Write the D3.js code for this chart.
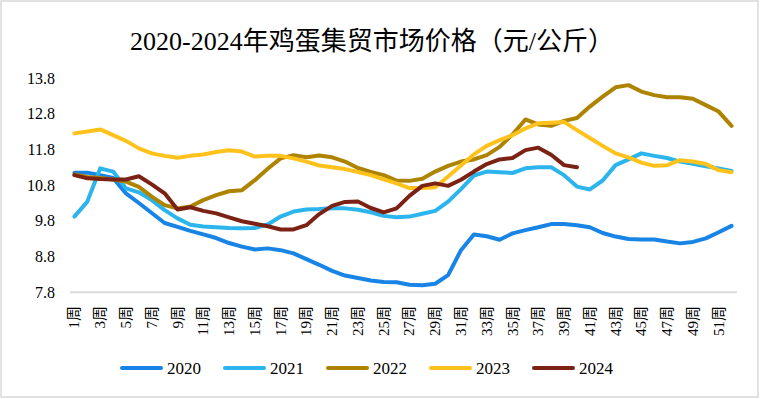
<!DOCTYPE html>
<html>
<head>
<meta charset="utf-8">
<script src="https://cdn.jsdelivr.net/npm/d3@7"></script>
<style>
  body { margin: 0; background: #fff; }
</style>
</head>
<body>
<svg id="chart" width="760" height="399"></svg>
<script>
// weeks on the x axis, only odd ones get a label
var weeks = d3.range(1, 53);
var yTicks = [7.8, 8.8, 9.8, 10.8, 11.8, 12.8, 13.8];
var years = ["2020", "2021", "2022", "2023", "2024"];

var v2020 = [11.15, 11.15, 11.08, 11.0, 10.57, 10.3, 10.02, 9.74, 9.63, 9.52, 9.42, 9.32, 9.18,
  9.08, 9.0, 9.03, 8.98, 8.89, 8.73, 8.57, 8.4, 8.27, 8.2, 8.13, 8.09, 8.08, 8.01, 8.0, 8.04,
  8.28, 8.98, 9.42, 9.37, 9.27, 9.45, 9.54, 9.62, 9.71, 9.71, 9.68, 9.62, 9.46, 9.36, 9.29,
  9.28, 9.28, 9.22, 9.17, 9.21, 9.31, 9.48, 9.66];
var v2021 = [9.92, 10.34, 11.27, 11.18, 10.71, 10.6, 10.38, 10.1, 9.87, 9.69, 9.64, 9.62, 9.6,
  9.59, 9.6, 9.7, 9.92, 10.06, 10.12, 10.13, 10.15, 10.15, 10.11, 10.04, 9.94, 9.9, 9.92, 10.0,
  10.08, 10.34, 10.69, 11.07, 11.18, 11.16, 11.14, 11.27, 11.3, 11.3, 11.08, 10.76, 10.68,
  10.93, 11.36, 11.52, 11.69, 11.62, 11.56, 11.46, 11.4, 11.33, 11.27, 11.2];
var v2022 = [11.1, 11.03, 11.0, 10.96, 10.9, 10.75, 10.48, 10.24, 10.15, 10.2, 10.38, 10.52,
  10.63, 10.66, 10.94, 11.26, 11.55, 11.64, 11.58, 11.63, 11.58, 11.46, 11.28, 11.17, 11.08,
  10.93, 10.92, 10.98, 11.18, 11.34, 11.46, 11.52, 11.64, 11.87, 12.22, 12.64, 12.5, 12.46,
  12.6, 12.68, 13.0, 13.28, 13.54, 13.6, 13.42, 13.32, 13.26, 13.26, 13.22, 13.04, 12.86, 12.46];
var v2023 = [12.25, 12.3, 12.36, 12.2, 12.04, 11.83, 11.69, 11.62, 11.57, 11.62, 11.66, 11.73,
  11.78, 11.74, 11.6, 11.62, 11.62, 11.55, 11.46, 11.35, 11.3, 11.25, 11.17, 11.08, 10.96,
  10.85, 10.72, 10.72, 10.74, 11.04, 11.35, 11.66, 11.9, 12.06, 12.2, 12.39, 12.53, 12.55,
  12.57, 12.34, 12.12, 11.9, 11.69, 11.58, 11.43, 11.34, 11.36, 11.5, 11.46, 11.39, 11.22, 11.16];
var v2024 = [11.08, 10.99, 10.97, 10.96, 10.96, 11.05, 10.82, 10.57, 10.12, 10.18, 10.08, 10.01,
  9.9, 9.79, 9.72, 9.65, 9.56, 9.56, 9.68, 9.99, 10.22, 10.33, 10.34, 10.16, 10.04, 10.15,
  10.5, 10.78, 10.85, 10.78, 10.95, 11.18, 11.39, 11.52, 11.56, 11.78, 11.85, 11.65, 11.36, 11.3];

var colors = ["#1784e6", "#2cb4ec", "#ad8300", "#ffc21c", "#7b2214"];
var serif = "'Liberation Serif', 'Times New Roman', Tinos, 'DejaVu Serif', serif";
var mixed = "'Liberation Serif', 'Times New Roman', 'Noto Sans CJK SC', serif";

function draw() {
  var svg = d3.select("#chart");

  // chart border
  svg.append("rect")
    .attr("x", 1).attr("y", 1)
    .attr("width", 757).attr("height", 396)
    .attr("fill", "#fff")
    .attr("stroke", "#d9d9d9")
    .attr("stroke-width", 1.5);

  svg.append("text")
    .attr("x", 372).attr("y", 50)
    .attr("text-anchor", "middle")
    .attr("font-family", mixed)
    .attr("font-size", 26)
    .text("2020-2024年鸡蛋集贸市场价格（元/公斤）");

  var x = d3.scalePoint()
    .domain(weeks)
    .range([68, 738])
    .padding(0.5);

  var y = d3.scaleLinear()
    .domain([7.8, 13.8])
    .range([292.3, 78]);

  // y axis labels, no line
  var yAxis = svg.append("g")
    .attr("transform", "translate(58,0)")
    .call(d3.axisLeft(y).tickValues(yTicks).tickSize(0).tickPadding(3).tickFormat(d3.format(".1f")));
  yAxis.attr("font-family", serif).attr("font-size", 16);
  yAxis.select(".domain").remove();
  yAxis.selectAll("text").attr("fill", "#000");

  // baseline
  svg.append("line")
    .attr("x1", 70).attr("x2", 737)
    .attr("y1", y(7.8)).attr("y2", y(7.8))
    .attr("stroke", "#d9d9d9")
    .attr("stroke-width", 2);

  // week labels, rotated
  svg.append("g")
    .attr("font-family", mixed)
    .attr("font-size", 15)
    .selectAll("text")
    .data(weeks.filter(function(d) { return d % 2 === 1; }))
    .enter()
    .append("text")
    .attr("transform", function(d) {
      return "translate(" + (x(d) + 5) + ",306) rotate(-90)";
    })
    .attr("text-anchor", "end")
    .text(function(d) { return d + "周"; });

  var line = d3.line()
    .x(function(d, i) { return x(weeks[i]); })
    .y(function(d) { return y(d); });

  var series = [v2020, v2021, v2022, v2023, v2024];
  series.forEach(function(vals, i) {
    svg.append("path")
      .attr("d", line(vals))
      .attr("fill", "none")
      .attr("stroke", colors[i])
      .attr("stroke-width", 4)
      .attr("stroke-linejoin", "round")
      .attr("stroke-linecap", "round");
  });

  // legend
  var legend = svg.selectAll(".legend")
    .data(years)
    .enter()
    .append("g")
    .attr("class", "legend")
    .attr("transform", function(d, i) {
      return "translate(" + (121 + i * 103) + ",368)";
    });

  legend.append("line")
    .attr("x1", 1).attr("x2", 40)
    .attr("y1", 0).attr("y2", 0)
    .attr("stroke", function(d, i) { return colors[i]; })
    .attr("stroke-width", 4)
    .attr("stroke-linecap", "round");

  legend.append("text")
    .attr("x", 46)
    .attr("y", 6)
    .attr("font-family", serif)
    .attr("font-size", 17)
    .text(function(d) { return d; });
}

draw();
</script>
</body>
</html>
